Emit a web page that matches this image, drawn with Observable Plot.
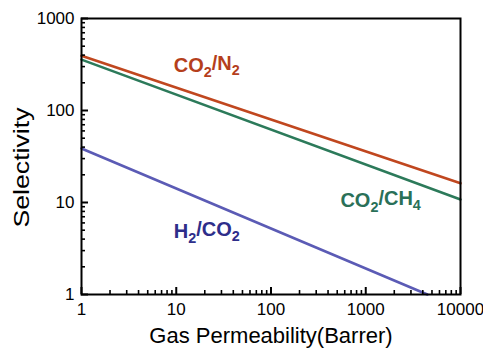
<!DOCTYPE html>
<html><head><meta charset="utf-8">
<script src="https://cdn.jsdelivr.net/npm/d3@7"></script>
<script src="https://cdn.jsdelivr.net/npm/@observablehq/plot@0.6"></script>
<style>
body{margin:0;background:#fff}
svg{font-family:"Liberation Sans",Arial,sans-serif}
</style>
</head><body><div id="chart"></div>
<script>
// Upper-bound lines (selectivity vs. permeability of faster gas)
const co2n2X = [1, 10000];
const co2n2Y = [393, 16.2];
const co2ch4X = [1, 10000];
const co2ch4Y = [357, 10.8];
const h2co2X = [1, 4470];
const h2co2Y = [38.7, 1];

const seriesNames = ["CO2/N2", "CO2/CH4", "H2/CO2"];
const seriesColors = ["#c0471f", "#2c7a5a", "#5b5bb5"];
const labelColors = ["#b53f1c", "#2a7058", "#2e2e8a"];
const labelX = [9.4, 540, 9.4];
const labelY = [305, 10.6, 4.78];

const xTicks = [1, 10, 100, 1000, 10000];
const yTicks = [1, 10, 100, 1000];
const minorX = [1, 10, 100, 1000].flatMap(d => [2,3,4,5,6,7,8,9].map(k => d * k));
const minorY = [1, 10, 100].flatMap(d => [2,3,4,5,6,7,8,9].map(k => d * k));

const xTitle = "Gas Permeability(Barrer)";
const yTitle = "Selectivity";

const series = [
  co2n2X.map((x, i) => ({name: seriesNames[0], x, y: co2n2Y[i]})),
  co2ch4X.map((x, i) => ({name: seriesNames[1], x, y: co2ch4Y[i]})),
  h2co2X.map((x, i) => ({name: seriesNames[2], x, y: h2co2Y[i]}))
];
const labels = seriesNames.map((name, i) => ({name, x: labelX[i], y: labelY[i], c: labelColors[i]}));

const chart = Plot.plot({
  width: 483,
  height: 349,
  marginLeft: 81,
  marginRight: 23,
  marginTop: 18,
  marginBottom: 55,
  x: {type: "log", domain: [1, 10000]},
  y: {type: "log", domain: [1, 1000]},
  style: {background: "#fff", color: "#000"},
  marks: [
    ...series.map((s, i) => Plot.line(s, {x: "x", y: "y", stroke: seriesColors[i], strokeWidth: 2.6})),
    Plot.axisX(minorX, {tickSize: -4, strokeWidth: 1.6, text: null, label: null}),
    Plot.axisY(minorY, {tickSize: -4, strokeWidth: 1.6, text: null, label: null}),
    Plot.axisX(xTicks, {tickSize: -7, strokeWidth: 2, text: null, label: null}),
    Plot.axisY(yTicks, {tickSize: -7, strokeWidth: 2, text: null, label: null}),
    Plot.axisX(xTicks, {tickSize: 0, tickPadding: 8, fontSize: 17, tickFormat: d => String(d), label: null}),
    Plot.axisY(yTicks, {tickSize: 0, tickPadding: 7, fontSize: 17, tickFormat: d => String(d), label: null}),
    Plot.frame({stroke: "#000", strokeWidth: 2}),
    Plot.text(labels, {x: "x", y: "y", text: "name", fill: "c", textAnchor: "start", fontSize: 20, fontWeight: "bold"}),
    Plot.text([xTitle], {frameAnchor: "bottom", lineAnchor: "middle", textAnchor: "middle", dy: 41, fontSize: 22}),
    Plot.text([yTitle], {frameAnchor: "left", lineAnchor: "middle", textAnchor: "middle", dx: -60, dy: 11, rotate: -90, fontSize: 22})
  ]
});

// subscripts for chemical formulas; stretch the y title like the reference
d3.select(chart).selectAll("text").each(function() {
  const t = this.textContent;
  if (t === yTitle) {
    d3.select(this).attr("textLength", 120).attr("lengthAdjust", "spacingAndGlyphs");
    return;
  }
  if (!seriesNames.includes(t)) return;
  const el = d3.select(this);
  el.text(null);
  const parts = t.match(/\d+|[^\d]+/g);
  let sub = false;
  parts.forEach(p => {
    const isNum = /^\d+$/.test(p);
    const ts = el.append("tspan").text(p);
    if (isNum && !sub) { ts.attr("dy", "0.35em").attr("font-size", "72%"); sub = true; }
    else if (isNum) { ts.attr("font-size", "72%"); }
    else if (sub) { ts.attr("dy", "-0.35em"); sub = false; }
  });
});

document.getElementById("chart").appendChild(chart);
</script>
</body></html>
